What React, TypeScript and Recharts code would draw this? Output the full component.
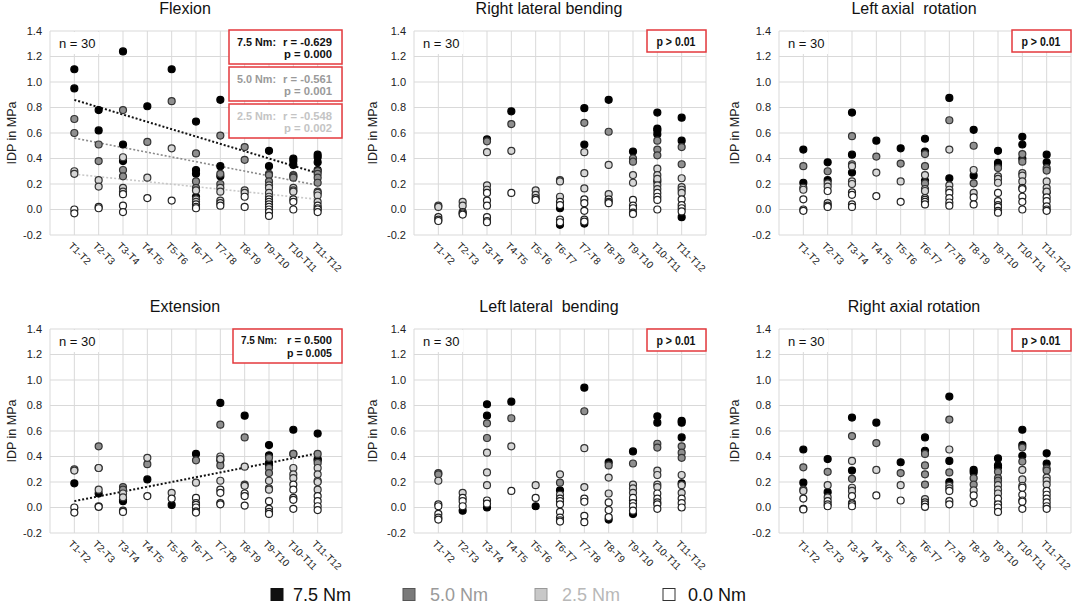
import React from 'react';
import { ComposedChart, Scatter, XAxis, YAxis, CartesianGrid, ReferenceLine, Label } from 'recharts';

const FONT = '"Liberation Sans", Arial, Helvetica, sans-serif';

// ---------- categories & ticks ----------
const categories = ['T1-T2', 'T2-T3', 'T3-T4', 'T4-T5', 'T5-T6', 'T6-T7', 'T7-T8', 'T8-T9', 'T9-T10', 'T10-T11', 'T11-T12'];
const xTicks = [0, 1, 2, 3, 4, 5, 6, 7, 8, 9, 10, 11, 12];
const yTicks = [-0.2, 0, 0.2, 0.4, 0.6, 0.8, 1.0, 1.2, 1.4];
const moments = ['7.5 Nm', '5.0 Nm', '2.5 Nm', '0.0 Nm'];

// ---------- Flexion ----------
const flexion75 = [[1.10, 0.95], [0.78, 0.62], [1.24, 0.51, 0.38], [0.81], [1.10], [0.69, 0.31, 0.28, 0.10], [0.86, 0.34, 0.26], [], [0.46, 0.34], [0.40, 0.38, 0.35], [0.43, 0.41, 0.37, 0.31]];
const flexion50 = [[0.71, 0.60], [0.51, 0.38], [0.78, 0.31, 0.26], [0.53], [0.85], [0.44, 0.22, 0.17], [0.58, 0.28, 0.20], [0.49, 0.39], [0.28, 0.27, 0.22], [0.27, 0.26, 0.25], [0.30, 0.28, 0.25, 0.21]];
const flexion25 = [[0.30, 0.28], [0.23, 0.18], [0.41, 0.17, 0.14], [0.25], [0.48], [0.15, 0.08, 0.06], [0.17, 0.14, 0.07], [0.15, 0.13], [0.19, 0.17, 0.13, 0.10], [0.17, 0.15, 0.14], [0.14, 0.13, 0.11, 0.06]];
const flexion00 = [[0.00, -0.03], [0.02, 0.01], [0.12, 0.03, -0.02], [0.09], [0.07], [0.04, 0.02, 0.01], [0.05, 0.03], [0.10, 0.02], [0.08, 0.06, 0.04, 0.02, 0.00, -0.02, -0.05], [0.08, 0.06, 0.00], [0.03, 0.01, 0.00, -0.02]];
const flexionTrend75 = [0.86, 0.285];
const flexionTrend50 = [0.56, 0.19];
const flexionTrend25 = [0.277, 0.08];

// ---------- Right lateral bending ----------
const rlb75 = [[], [], [0.55], [0.77], [], [0.01, -0.12], [0.795, 0.51, -0.11], [0.86], [0.455], [0.76, 0.635, 0.62, 0.59, 0.22], [0.72, 0.54, -0.06]];
const rlb50 = [[], [], [0.535], [0.67], [], [0.23], [0.68], [0.61], [0.40, 0.375], [0.54, 0.47, 0.425], [0.49, 0.355]];
const rlb25 = [[0.03, 0.02], [0.06, 0.03], [0.45, 0.19, 0.155], [0.46], [0.15, 0.115], [0.22, 0.10], [0.45, 0.285, 0.165], [0.35, 0.12], [0.27, 0.21], [0.32, 0.27, 0.24, 0.19, 0.16], [0.245, 0.175, 0.155, 0.13]];
const rlb00 = [[-0.06, -0.08, -0.09], [-0.02, -0.03, -0.04], [0.13, 0.07, 0.03, -0.06, -0.09, -0.10], [0.13], [0.09, 0.075], [0.06, 0.035, -0.08, -0.10], [0.08, 0.05, -0.01, -0.08, -0.095], [0.08, 0.06, 0.05], [0.075, 0.03, 0.01, -0.025, -0.035], [0.13, 0.10, 0.075, 0.00], [0.08, 0.035, 0.01, -0.015]];

// ---------- Left axial rotation ----------
const lar75 = [[0.47, 0.21], [0.37, 0.23], [0.76, 0.43, 0.29], [0.54], [0.48], [0.555, 0.455, 0.225], [0.875, 0.245], [0.625, 0.265], [0.46, 0.365, 0.34], [0.57, 0.51, 0.40], [0.43, 0.37, 0.135]];
const lar50 = [[0.34], [0.30], [0.575, 0.355], [0.415], [0.36], [0.435, 0.34, 0.205], [0.70], [0.50, 0.205], [0.325], [0.435, 0.375], [0.325, 0.305]];
const lar25 = [[0.17, 0.155], [0.205, 0.18], [0.34, 0.22, 0.20], [0.29], [0.22], [0.27, 0.16, 0.145], [0.47, 0.19, 0.155], [0.31, 0.13], [0.26, 0.24, 0.21], [0.285, 0.265, 0.22], [0.22, 0.17, 0.14]];
const lar00 = [[0.08, 0.00, -0.01], [0.145, 0.05, 0.03, 0.02], [0.135, 0.115, 0.04, 0.02], [0.105], [0.06], [0.09, 0.075, 0.06, 0.04], [0.13, 0.09, 0.055, 0.03], [0.095, 0.04], [0.13, 0.065, 0.035, 0.02, -0.01, -0.025], [0.17, 0.16, 0.10, 0.06, 0.00], [0.095, 0.065, 0.025, 0.00, -0.01]];

// ---------- Extension ----------
const ext75 = [[0.19], [0.11], [0.06, 0.05], [0.22], [0.02], [0.42], [0.82, 0.37], [0.72], [0.49, 0.41, 0.35, 0.33], [0.61], [0.58, 0.38, 0.37]];
const ext50 = [[0.30], [0.48, 0.31], [0.16, 0.14], [0.34], [], [0.37], [0.65, 0.33], [0.55, 0.18], [0.39, 0.31, 0.27], [0.42, 0.42], [0.42, 0.35]];
const ext25 = [[0.29], [0.31, 0.14], [0.11, 0.08], [0.39], [0.115], [0.195], [0.40, 0.38, 0.21], [0.32, 0.17], [0.21, 0.15, 0.14], [0.31, 0.26, 0.23], [0.31, 0.26, 0.21, 0.20, 0.14]];
const ext00 = [[0.00, -0.04], [0.01, 0.005], [-0.025, -0.035], [0.09], [0.07], [0.075, 0.035, 0.02, 0.00, -0.03, -0.04], [0.14, 0.115, 0.035, 0.025], [0.11, 0.09, 0.015], [0.05, -0.01, -0.035, -0.05], [0.18, 0.14, 0.075, 0.06, -0.01], [0.09, 0.05, 0.01, -0.02]];
const extTrend75 = [0.05, 0.425];

// ---------- Left lateral bending ----------
const llb75 = [[], [-0.025], [0.81, 0.72, 0.00], [0.83], [0.01], [0.135], [0.94], [0.355, -0.095], [0.44, 0.055, -0.05], [0.715, 0.665], [0.68, 0.665, 0.55, 0.19]];
const llb50 = [[0.27, 0.26], [], [0.66, 0.545], [0.70], [], [0.195], [0.755], [0.33], [0.345], [0.50, 0.47], [0.48, 0.43, 0.39]];
const llb25 = [[0.21], [0.115], [0.43, 0.275, 0.175], [0.48], [0.175], [0.26, 0.10], [0.465, 0.16], [0.235, 0.11], [0.18, 0.15, 0.115], [0.29, 0.255, 0.18, 0.16], [0.255, 0.175, 0.115]];
const llb00 = [[0.025, 0.01, -0.05, -0.08, -0.095], [0.075, 0.05, 0.01], [0.055, 0.03], [0.13], [0.075], [0.07, 0.05, 0.025, -0.035, -0.08, -0.10, -0.11], [0.07, 0.045, -0.065, -0.115], [0.04, -0.02, -0.075], [0.075, 0.035, 0.01, -0.025], [0.11, 0.07, 0.04, 0.025, -0.01], [0.07, 0.035, 0.00]];

// ---------- Right axial rotation ----------
const rar75 = [[0.455, 0.195], [0.38, 0.12], [0.705, 0.29], [0.665], [0.355], [0.55, 0.445], [0.87, 0.365, 0.20], [0.295, 0.275], [0.385, 0.33, 0.315, 0.03], [0.61, 0.49, 0.405], [0.425, 0.345]];
const rar50 = [[0.315], [0.28], [0.56, 0.225], [0.505], [0.27], [0.42, 0.33, 0.26, 0.18], [0.69, 0.275], [0.23, 0.18], [0.28, 0.23, 0.21], [0.47, 0.36], [0.305, 0.29]];
const rar25 = [[0.14, 0.13], [0.175, 0.08], [0.365, 0.155, 0.13], [0.295], [0.175], [0.065], [0.455, 0.17, 0.15], [0.135], [0.175, 0.14, 0.11], [0.295, 0.22, 0.17], [0.235, 0.21, 0.18]];
const rar00 = [[0.07, -0.01, -0.015], [0.05, 0.025, 0.01], [0.09, 0.035, 0.025, 0.01], [0.095], [0.055], [0.04, 0.025, 0.005], [0.13, 0.05, 0.025], [0.095, 0.035], [0.07, 0.025, 0.00, -0.035], [0.155, 0.10, 0.055, 0.045, -0.01], [0.13, 0.10, 0.07, 0.04, 0.01, -0.01]];

// ---------- styles ----------
const seriesStyle = [
  { fill: '#000000', stroke: '#000000' },
  { fill: '#8f8f8f', stroke: '#333333' },
  { fill: '#d6d6d6', stroke: '#333333' },
  { fill: '#ffffff', stroke: '#222222' },
];
const trendStyle = [
  { stroke: '#111111', width: 2 },
  { stroke: '#8a8a8a', width: 1.6 },
  { stroke: '#c8c8c8', width: 1.6 },
];

const AXIS_W = 60;
const COLS = [
  { left: 50, right: 342, labelX: 12 },
  { left: 414, right: 706, labelX: 372.5 },
  { left: 779, right: 1071, labelX: 735 },
];
const ROWS = [
  { top: 31, titleY: 14, nY: 47.5 },
  { top: 329, titleY: 312, nY: 346 },
];
const PLOT_H = 204;

type PanelDef = {
  title: string;
  col: number;
  row: number;
  series: number[][][];
  trends: { s: number; v: number[] }[];
};

const panels: PanelDef[] = [
  { title: 'Flexion', col: 0, row: 0, series: [flexion75, flexion50, flexion25, flexion00], trends: [{ s: 0, v: flexionTrend75 }, { s: 1, v: flexionTrend50 }, { s: 2, v: flexionTrend25 }] },
  { title: 'Right lateral bending', col: 1, row: 0, series: [rlb75, rlb50, rlb25, rlb00], trends: [] },
  { title: 'Left\u2009axial  rotation', col: 2, row: 0, series: [lar75, lar50, lar25, lar00], trends: [] },
  { title: 'Extension', col: 0, row: 1, series: [ext75, ext50, ext25, ext00], trends: [{ s: 0, v: extTrend75 }] },
  { title: 'Left\u2009lateral  bending', col: 1, row: 1, series: [llb75, llb50, llb25, llb00], trends: [] },
  { title: 'Right axial rotation', col: 2, row: 1, series: [rar75, rar50, rar25, rar00], trends: [] },
];

const toPoints = (arr: number[][]) => arr.flatMap((vals, i) => vals.map((v) => ({ x: i + 1, y: v })));

const XTick = (props: any) => {
  const { x, y, payload } = props;
  const label = categories[payload.value - 1];
  if (!label) return null;
  return (
    <g transform={`translate(${x - 4},${y + 1})`}>
      <text x={0} y={0} dy="0.35em" transform="rotate(45)" textAnchor="start" fontSize={10} fill="#222" fontFamily={FONT}>
        {label}
      </text>
    </g>
  );
};

function PanelChart({ p }: { p: PanelDef }) {
  const c = COLS[p.col];
  const r = ROWS[p.row];
  const chartLeft = c.left - AXIS_W;
  const w = c.right - c.left + AXIS_W + 8;
  const labelX = c.labelX - chartLeft;
  return (
    <div style={{ position: 'absolute', left: chartLeft, top: r.top - 31 }}>
      <ComposedChart width={w} height={31 + PLOT_H + 55} margin={{ top: 31, right: 8, left: 0, bottom: 0 }}>
        <CartesianGrid stroke="#d9d9d9" strokeWidth={1} />
        <XAxis type="number" dataKey="x" domain={[0, 12]} ticks={xTicks} interval={0} tick={<XTick />} axisLine={false} tickLine={false} height={55} />
        <YAxis
          type="number"
          dataKey="y"
          domain={[-0.2, 1.4]}
          ticks={yTicks}
          interval={0}
          tickFormatter={(v: number) => v.toFixed(1)}
          axisLine={false}
          tickLine={false}
          width={AXIS_W}
          tick={{ fontSize: 11, fill: '#222', fontFamily: FONT }}
        >
          <Label
            content={(lp: any) => {
              const vb = lp.viewBox || { y: 31, height: PLOT_H };
              const cy = vb.y + vb.height / 2;
              return (
                <text x={labelX} y={cy} transform={`rotate(-90, ${labelX}, ${cy})`} textAnchor="middle" dominantBaseline="central" fontSize={12.5} fill="#222" fontFamily={FONT}>
                  IDP in MPa
                </text>
              );
            }}
          />
        </YAxis>
        {p.series.map((s, si) => (
          <Scatter
            key={moments[si]}
            name={moments[si]}
            data={toPoints(s)}
            isAnimationActive={false}
            shape={(sp: any) => (
              <circle cx={sp.cx} cy={sp.cy} r={3.5} fill={seriesStyle[si].fill} stroke={seriesStyle[si].stroke} strokeWidth={1.2} />
            )}
          />
        ))}
        {p.trends.map((t) => (
          <ReferenceLine
            key={'t' + t.s}
            segment={[{ x: 1, y: t.v[0] }, { x: 11, y: t.v[1] }]}
            stroke={trendStyle[t.s].stroke}
            strokeWidth={trendStyle[t.s].width}
            strokeDasharray="2 2"
          />
        ))}
      </ComposedChart>
    </div>
  );
}

const RED = '#e4393d';

const flexBoxes = [
  { top: 30, color: '#111111', m: '7.5 Nm:', r: 'r = -0.629', p: 'p = 0.000' },
  { top: 67, color: '#9a9a9a', m: '5.0 Nm:', r: 'r = -0.561', p: 'p = 0.001' },
  { top: 104, color: '#c4c4c4', m: '2.5 Nm:', r: 'r = -0.548', p: 'p = 0.002' },
];

const pBoxes = [
  { x: 647, y: 30 }, { x: 1012, y: 30 }, { x: 647, y: 329 }, { x: 1012, y: 329 },
];

const legendItems = [
  { sx: 271, tx: 293, fill: '#111111', stroke: '#111111', text: '#111111' },
  { sx: 403, tx: 430, fill: '#7a7a7a', stroke: '#555555', text: '#9a9a9a' },
  { sx: 535, tx: 562, fill: '#c8c8c8', stroke: '#999999', text: '#b8b8b8' },
  { sx: 663, tx: 688, fill: '#ffffff', stroke: '#333333', text: '#111111' },
];

function Overlay() {
  return (
    <svg width={1074} height={616} style={{ position: 'absolute', left: 0, top: 0, pointerEvents: 'none' }} fontFamily={FONT}>
      {panels.map((p) => {
        const c = COLS[p.col];
        const r = ROWS[p.row];
        return (
          <g key={p.title}>
            <text x={(c.left + c.right) / 2 - 11} y={r.titleY} textAnchor="middle" fontSize={16} fill="#111" style={{ whiteSpace: 'pre' }}>
              {p.title}
            </text>
            <rect x={c.left + 1} y={r.top + 1} width={48} height={22} fill="#fff" />
            <text x={c.left + 9} y={r.nY} fontSize={13} fill="#111">n = 30</text>
          </g>
        );
      })}
      {flexBoxes.map((b) => (
        <g key={b.m} fontSize={11.5} fontWeight="bold" fill={b.color}>
          <rect x={229} y={b.top} width={113} height={34} fill="#fff" stroke={RED} strokeWidth={1.5} />
          <text x={237} y={b.top + 16} textLength={39} lengthAdjust="spacingAndGlyphs">{b.m}</text>
          <text x={283} y={b.top + 16} textLength={49} lengthAdjust="spacingAndGlyphs">{b.r}</text>
          <text x={284} y={b.top + 28} textLength={48} lengthAdjust="spacingAndGlyphs">{b.p}</text>
        </g>
      ))}
      <g fontSize={11.5} fontWeight="bold" fill="#111">
        <rect x={233} y={329} width={109} height={34} fill="#fff" stroke={RED} strokeWidth={1.5} />
        <text x={241} y={344} textLength={36} lengthAdjust="spacingAndGlyphs">7.5 Nm:</text>
        <text x={287} y={344} textLength={45} lengthAdjust="spacingAndGlyphs">r = 0.500</text>
        <text x={287} y={357} textLength={45} lengthAdjust="spacingAndGlyphs">p = 0.005</text>
      </g>
      {pBoxes.map((b, i) => (
        <g key={'pb' + i} fontSize={12} fontWeight="bold" fill="#111">
          <rect x={b.x} y={b.y} width={59} height={22} fill="#fff" stroke={RED} strokeWidth={1.5} />
          <text x={b.x + 9.5} y={b.y + 15.5} textLength={39} lengthAdjust="spacingAndGlyphs">p &gt; 0.01</text>
        </g>
      ))}
      {legendItems.map((l, i) => (
        <g key={'lg' + i}>
          <rect x={l.sx} y={588.5} width={12} height={12} fill={l.fill} stroke={l.stroke} strokeWidth={1} />
          <text x={l.tx} y={601} fontSize={18} fill={l.text}>{moments[i]}</text>
        </g>
      ))}
    </svg>
  );
}

export default function App() {
  return (
    <div style={{ position: 'absolute', left: 0, top: 0, width: 1074, height: 616, background: '#fff', fontFamily: FONT, overflow: 'hidden' }}>
      {panels.map((p) => (
        <PanelChart key={p.title} p={p} />
      ))}
      <Overlay />
    </div>
  );
}
